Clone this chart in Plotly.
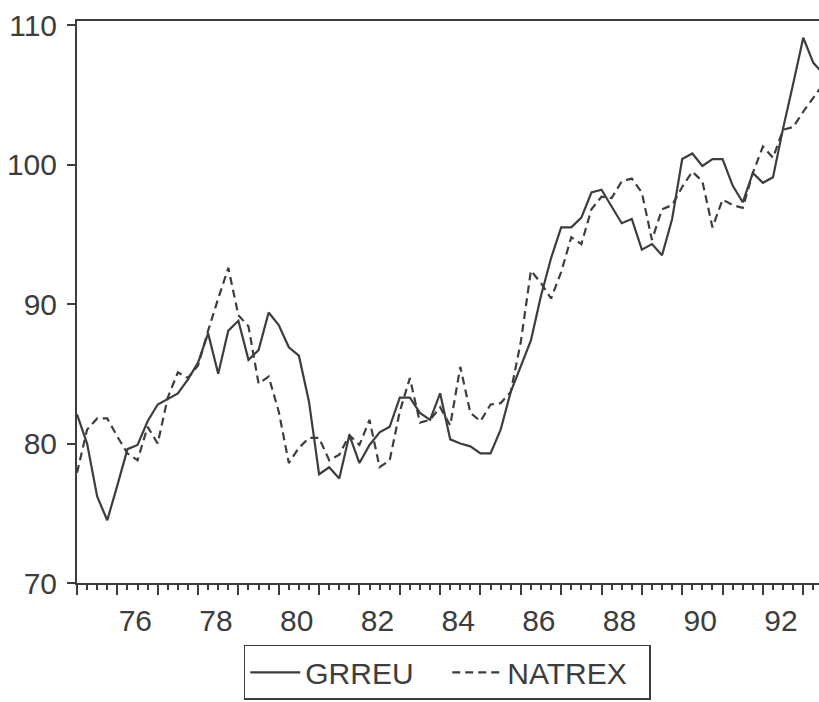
import plotly.graph_objects as go

# Quarterly observations 1975Q1 .. 1993Q3
years = list(range(1975, 1994))
quarters = [1, 2, 3, 4]

grreu = [
    82.1, 80.0, 76.2, 74.5,
    77.0, 79.6, 79.9, 81.6,
    82.8, 83.2, 83.6, 84.6,
    85.8, 87.9, 85.0, 88.1,
    88.8, 86.0, 86.7, 89.4,
    88.5, 86.9, 86.3, 83.0,
    77.8, 78.3, 77.5, 80.6,
    78.6, 79.9, 80.8, 81.2,
    83.3, 83.3, 82.2, 81.7,
    83.6, 80.3, 80.0, 79.8,
    79.3, 79.3, 81.0, 83.7,
    85.6, 87.4, 90.6, 93.3,
    95.5, 95.5, 96.2, 98.0,
    98.2, 97.0, 95.8, 96.1,
    93.9, 94.3, 93.5, 96.1,
    100.4, 100.8, 99.9, 100.4,
    100.4, 98.5, 97.3, 99.4,
    98.7, 99.1, 102.6, 105.8,
    109.1, 107.3, 106.5,
]

natrex = [
    77.9, 81.0, 81.8, 81.8,
    80.5, 79.3, 78.8, 81.2,
    80.0, 83.3, 85.1, 84.7,
    85.6, 88.1, 90.4, 92.6,
    89.2, 88.4, 84.3, 84.8,
    82.3, 78.6, 79.7, 80.4,
    80.4, 78.8, 79.2, 80.6,
    79.9, 81.7, 78.3, 78.8,
    82.3, 84.7, 81.5, 81.7,
    82.6, 81.3, 85.5, 82.2,
    81.6, 82.8, 82.9, 83.7,
    87.3, 92.4, 91.5, 90.4,
    92.3, 94.8, 94.3, 96.8,
    97.7, 97.6, 98.8, 99.0,
    98.0, 94.6, 96.8, 97.1,
    98.4, 99.5, 98.8, 95.5,
    97.5, 97.1, 96.9, 99.4,
    101.3, 100.5, 102.5, 102.7,
    103.8, 104.8, 105.8,
]

# time index (fractional years) for each quarter
t = [y + (q - 1) / 4 for y in years for q in quarters][:len(grreu)]

tick_years = list(range(1975, 1994))
tick_text = [str(y)[2:] if y % 2 == 0 else "" for y in tick_years]
y_ticks = [70, 80, 90, 100, 110]

ink = "#3d3d3d"
font_family = "Liberation Sans, Arial, sans-serif"

fig = go.Figure()
fig.add_trace(go.Scatter(x=t, y=grreu, mode="lines", name="GRREU",
                         line=dict(color=ink, width=2.2)))
fig.add_trace(go.Scatter(x=t, y=natrex, mode="lines", name="NATREX",
                         line=dict(color=ink, width=2.2, dash="8px,5px")))

fig.update_layout(
    width=819, height=702,
    margin=dict(l=77, r=0, t=21, b=119),
    paper_bgcolor="white", plot_bgcolor="white",
    font=dict(family=font_family, color=ink, size=30),
    showlegend=True,
    legend=dict(orientation="h", x=0.499, xanchor="center", y=-0.208, yanchor="bottom",
                bordercolor=ink, borderwidth=1.5, font=dict(size=30),
                itemwidth=50, entrywidth=137, bgcolor="white"),
    xaxis=dict(range=[1975, 1993.39], showgrid=False, zeroline=False,
               showline=True, linecolor=ink, linewidth=2, mirror=True,
               tickmode="array", tickvals=tick_years, ticktext=tick_text,
               ticks="outside", ticklen=10, tickwidth=2, tickcolor=ink,
               ticklabelshift=18,
               minor=dict(dtick=0.25, tick0=1975, ticks="outside", ticklen=5,
                          tickwidth=1.5, tickcolor=ink, showgrid=False),
               tickfont=dict(size=30, color=ink)),
    yaxis=dict(range=[70, 110.3], showgrid=False, zeroline=False,
               showline=True, linecolor=ink, linewidth=2,
               tickmode="array", tickvals=y_ticks,
               ticks="outside", ticklen=8, tickwidth=2, tickcolor=ink,
               ticklabelstandoff=4,
               tickfont=dict(size=30, color=ink)),
)

fig.write_html("out.html")
